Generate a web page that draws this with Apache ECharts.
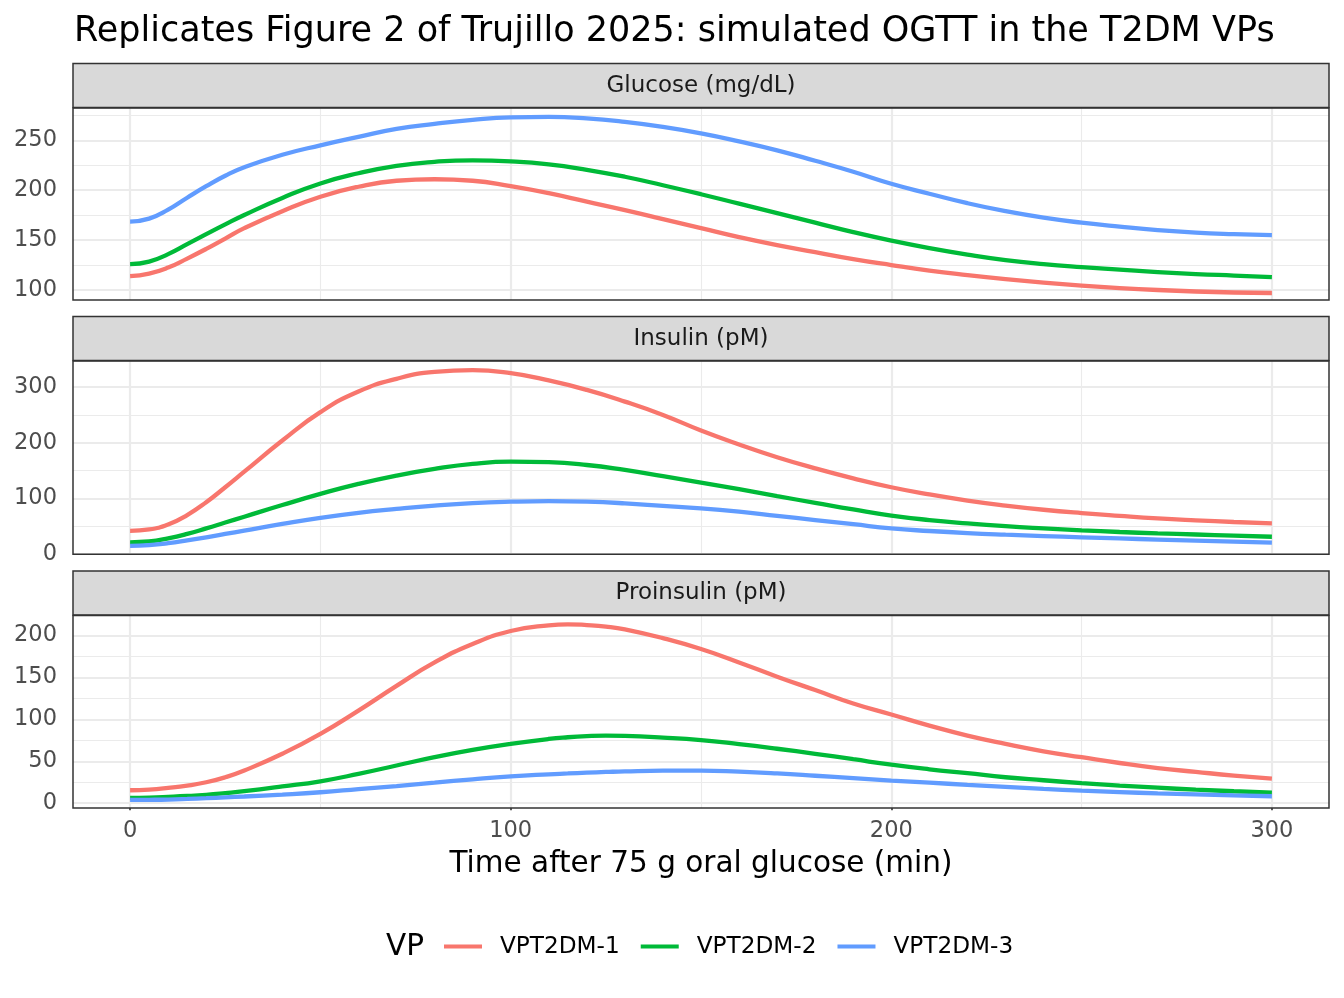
<!DOCTYPE html>
<html>
<head>
<meta charset="utf-8">
<title>Simulated OGTT in the T2DM VPs</title>
<script src="https://cdn.jsdelivr.net/npm/echarts@6/dist/echarts.min.js"></script>
<style>
  html, body { margin: 0; padding: 0; background: #fff; }
  #main { width: 1344px; height: 998px; }
</style>
</head>
<body>
<div id="main"></div>
<script>
// ---- data ----
var timeMin = [0, 5, 10, 15, 20, 25, 30, 40, 50, 60, 70, 80, 90, 100, 110, 120, 130, 140, 150,
               160, 170, 180, 190, 200, 210, 220, 230, 240, 250, 260, 270, 280, 290, 300];
// proinsulin peaks fall between the 10-minute marks, so that panel is read at a few more times
var proTimeMin = [0, 5, 10, 15, 20, 25, 30, 40, 50, 60, 70, 80, 90, 100, 110, 115, 120, 125, 130, 140, 150,
                  160, 170, 180, 190, 200, 210, 220, 230, 240, 250, 260, 270, 280, 290, 300];

var vpNames = ['VPT2DM-1', 'VPT2DM-2', 'VPT2DM-3'];
var vpColors = ['#F8766D', '#00BA38', '#619CFF'];

var panelTitles = ['Glucose (mg/dL)', 'Insulin (pM)', 'Proinsulin (pM)'];

// glucose, mg/dL
var glucose1 = [114, 116.5, 122.5, 131.5, 141.2, 151.6, 162, 179, 193.5, 203.5, 209.5, 211, 209.5, 204, 197, 188.5, 180,
                171, 162, 153, 145, 138, 131, 125, 119.5, 115, 111, 107.5, 104.5, 102, 100, 98.5, 97.5, 97];
var glucose2 = [126, 128.5, 136, 146, 156, 165.8, 175.2, 192.3, 206.8, 217, 224.5, 228.5, 230, 229, 226, 220.5, 213.5,
                205, 196, 186.5, 177, 167.5, 158, 149.5, 142, 135.5, 130, 126, 123, 120.5, 118, 116, 114.5, 113];
var glucose3 = [168.5, 171.5, 180.5, 192.5, 204, 214.5, 223, 235.5, 245, 253.5, 261.5, 266.5, 270.5, 273, 273.5, 272, 268.5,
                263.5, 257, 249, 240, 229.5, 218.5, 206.5, 196.5, 187, 179, 172.5, 167.5, 163.5, 160, 157.5, 156, 155];

// insulin, pM
var insulin1 = [41.5, 44, 53, 70, 93, 120, 148, 204, 255, 292, 315, 327.5, 330.5, 325, 312, 295, 274,
                250, 222, 197, 174, 154, 136, 120, 107, 96, 87, 79.5, 73.5, 68.5, 64, 60.5, 57.5, 55];
var insulin2 = [21, 22.5, 28, 36, 46, 56.5, 67, 88, 108, 126, 141, 153, 162, 166, 165, 160, 151,
                140, 128.5, 116.5, 104, 92, 80, 69, 61, 55, 50, 46, 42.5, 39.5, 37, 35, 33, 31];
var insulin3 = [14.5, 16, 19.5, 24.5, 30, 36, 42, 54, 65, 74, 81, 87, 91.5, 94, 95, 94, 91,
                86.5, 82, 76, 68.5, 61, 53.5, 46, 41.3, 37.5, 34.6, 32.2, 30, 27.9, 25.9, 24, 22.2, 20.4];

// proinsulin, pM (at proTimeMin)
var proinsulin1 = [15.5, 16.3, 18.3, 21, 25, 31, 39, 59, 82.7, 110.5, 140, 168, 190, 205.5, 212.3, 213.5, 212.6, 210.8, 207.5,
                   197, 184, 168, 151, 135, 119, 105.8, 92.6, 80.7, 70.8, 62, 54.9, 48, 42, 37.4, 33, 29.4];
var proinsulin2 = [6.4, 6.8, 7.6, 8.6, 10, 12, 14.3, 20, 26.2, 35, 45, 55, 63.6, 70.8, 76.7, 78.7, 80, 80.6, 80.3,
                   78.3, 75.3, 70.5, 65, 59, 52.5, 46, 40.5, 35.8, 31, 27.4, 24, 21, 18.5, 16.2, 14.3, 12.7];
var proinsulin3 = [4, 4.1, 4.4, 5.1, 6, 7, 8, 10.3, 13.1, 16.8, 20.5, 24.5, 28.5, 32, 34.5, 35.5, 36.5, 37.3, 38,
                   38.8, 38.9, 37.6, 35.5, 32.8, 29.9, 27, 24.5, 22, 19.6, 17.2, 15, 13.3, 11.8, 10.5, 9.3, 8.3];

var panelTimes = [timeMin, timeMin, proTimeMin];
var panelSeries = [
  [glucose1, glucose2, glucose3],
  [insulin1, insulin2, insulin3],
  [proinsulin1, proinsulin2, proinsulin3]
];

// axis ranges and breaks
var xRange = [-15, 315];
var xBreaks = [0, 100, 200, 300];
var xMinorBreaks = [50, 150, 250];

var yRanges = [[90, 282.4], [-0.6, 347], [-5.7, 224]];
var yBreaks = [[100, 150, 200, 250], [0, 100, 200, 300], [0, 50, 100, 150, 200]];
var yMinorBreaks = [[125, 175, 225, 275], [50, 150, 250], [25, 75, 125, 175]];

// ---- layout ----
var plotLeft = 73, plotWidth = 1256;
var panelTop = [108, 361, 615.5];
var panelHeight = [192, 193.3, 192.5];
var stripHeight = 44;
var font = '"DejaVu Sans", sans-serif';

var myChart = echarts.init(document.getElementById('main'));

function segments(xs, ys, xr, yr) {
  var out = [];
  xs.forEach(function (x) { out.push({ coords: [[x, yr[0]], [x, yr[1]]] }); });
  ys.forEach(function (y) { out.push({ coords: [[xr[0], y], [xr[1], y]] }); });
  return out;
}

var grids = [], xAxes = [], yAxes = [], series = [], graphics = [];

for (var p = 0; p < 3; p++) {
  var isBottom = (p === 2);
  grids.push({ left: plotLeft, top: panelTop[p], width: plotWidth, height: panelHeight[p], show: false });

  xAxes.push({
    gridIndex: p, type: 'value', min: xRange[0], max: xRange[1],
    axisLine: { show: false },
    splitLine: { show: false },
    axisTick: { show: isBottom, customValues: xBreaks, length: 7, lineStyle: { color: '#333333', width: 1.6 } },
    axisLabel: { show: isBottom, customValues: xBreaks, margin: 12, color: '#4D4D4D', fontSize: 22.5, fontFamily: font }
  });

  yAxes.push({
    gridIndex: p, type: 'value', min: yRanges[p][0], max: yRanges[p][1],
    axisLine: { show: false },
    splitLine: { show: false },
    axisTick: { show: true, customValues: yBreaks[p], length: 7, lineStyle: { color: '#333333', width: 1.6 } },
    axisLabel: { show: true, customValues: yBreaks[p], margin: 16, color: '#4D4D4D', fontSize: 22.5, fontFamily: font }
  });

  // panel grid lines (minor then major)
  series.push({
    type: 'lines', coordinateSystem: 'cartesian2d', xAxisIndex: p, yAxisIndex: p,
    silent: true, z: 1, animation: false,
    lineStyle: { color: '#EBEBEB', width: 1.1, opacity: 1 },
    data: segments(xMinorBreaks, yMinorBreaks[p], xRange, yRanges[p])
  });
  series.push({
    type: 'lines', coordinateSystem: 'cartesian2d', xAxisIndex: p, yAxisIndex: p,
    silent: true, z: 1, animation: false,
    lineStyle: { color: '#EBEBEB', width: 2.2, opacity: 1 },
    data: segments(xBreaks, yBreaks[p], xRange, yRanges[p])
  });

  for (var s = 0; s < 3; s++) {
    var vals = panelSeries[p][s];
    series.push({
      type: 'line', name: vpNames[s], xAxisIndex: p, yAxisIndex: p,
      data: panelTimes[p].map(function (t, k) { return [t, vals[k]]; }),
      symbol: 'none', showSymbol: false, smooth: 0.5,
      silent: true, z: 3,
      color: vpColors[s],
      itemStyle: { color: vpColors[s] },
      lineStyle: { color: vpColors[s], width: 4.3 },
      animation: false
    });
  }

  // strip
  graphics.push({
    type: 'rect', z: 50,
    shape: { x: plotLeft, y: panelTop[p] - stripHeight - 0.5, width: plotWidth, height: stripHeight },
    style: { fill: '#D9D9D9', stroke: '#333333', lineWidth: 1.5 }
  });
  graphics.push({
    type: 'text', z: 51, x: plotLeft + plotWidth / 2, y: panelTop[p] - stripHeight / 2,
    style: { text: panelTitles[p], font: '23px ' + font, fill: '#1A1A1A',
             align: 'center', verticalAlign: 'middle', textAlign: 'center', textVerticalAlign: 'middle' }
  });
  // panel border
  graphics.push({
    type: 'rect', z: 100,
    shape: { x: plotLeft, y: panelTop[p], width: plotWidth, height: panelHeight[p] },
    style: { fill: 'none', stroke: '#333333', lineWidth: 1.5 }
  });
}

// titles
graphics.push({
  type: 'text', z: 60, x: 74, y: 32,
  style: { text: 'Replicates Figure 2 of Trujillo 2025: simulated OGTT in the T2DM VPs',
           font: '35px ' + font, fill: '#000000',
           align: 'left', verticalAlign: 'middle', textAlign: 'left', textVerticalAlign: 'middle' }
});
graphics.push({
  type: 'text', z: 60, x: plotLeft + plotWidth / 2, y: 864,
  style: { text: 'Time after 75 g oral glucose (min)', font: '29.5px ' + font, fill: '#000000',
           align: 'center', verticalAlign: 'middle', textAlign: 'center', textVerticalAlign: 'middle' }
});
graphics.push({
  type: 'text', z: 60, x: 386, y: 947,
  style: { text: 'VP', font: '29.5px ' + font, fill: '#000000',
           align: 'left', verticalAlign: 'middle', textAlign: 'left', textVerticalAlign: 'middle' }
});

myChart.setOption({
  backgroundColor: '#FFFFFF',
  animation: false,
  grid: grids,
  xAxis: xAxes,
  yAxis: yAxes,
  legend: {
    data: vpNames,
    left: 444, top: 935, padding: 0,
    orient: 'horizontal',
    icon: 'rect', itemWidth: 38, itemHeight: 4, itemGap: 21,
    selectedMode: false,
    textStyle: { fontSize: 23.2, fontFamily: font, color: '#000000', padding: [0, 0, 0, 13] }
  },
  series: series,
  graphic: { elements: graphics }
});
</script>
</body>
</html>
